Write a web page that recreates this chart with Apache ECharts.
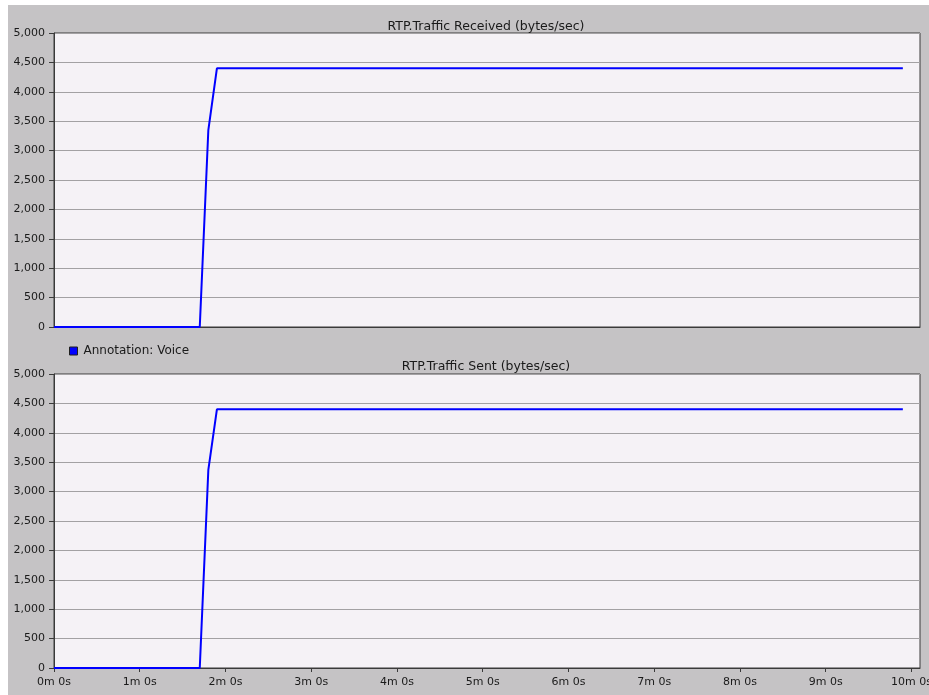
<!DOCTYPE html>
<html>
<head>
<meta charset="utf-8">
<script src="https://cdn.jsdelivr.net/npm/echarts@6/dist/echarts.min.js"></script>
<style>
  html, body { margin: 0; padding: 0; background: #ffffff; }
  body { width: 929px; height: 695px; overflow: hidden; position: relative; }
  #chart { position: absolute; left: 8px; top: 5px; width: 921px; height: 690px; background: #c5c3c5; }
</style>
</head>
<body>
<div id="chart"></div>
<script>
// Simulation time (seconds) and RTP traffic rates (bytes/sec)
const receivedTimes = [0, 102, 108, 114, 594];
const receivedValues = [0, 0, 3350, 4400, 4400];
const sentTimes = [0, 102, 108, 114, 594];
const sentValues = [0, 0, 3370, 4400, 4400];

const panelTitles = ['RTP.Traffic Received (bytes/sec)', 'RTP.Traffic Sent (bytes/sec)'];
const seriesName = 'Annotation: Voice';
const minuteTicks = [0, 60, 120, 180, 240, 300, 360, 420, 480, 540, 600];

const FONT = 'DejaVu Sans';
const FONT_SIZE = 11;
const textColor = '#1a1a1a';

function pairs(xs, ys) { return xs.map((x, i) => [x, ys[i]]); }

function fmtTime(v) {
  const m = Math.floor(v / 60), s = Math.round(v - m * 60);
  return m + 'm ' + s + 's';
}

const gridBase = { left: 46, width: 866, height: 294, show: true, outerBoundsMode: 'none',
  backgroundColor: '#f5f2f6', borderColor: '#3a3a3a', borderWidth: 1 };

function xAxisFor(gridIndex, showLabels) {
  return {
    type: 'value', gridIndex, min: 0, max: 606,
    axisLine: { show: true, onZero: false, lineStyle: { color: '#3a3a3a', width: 1 } },
    axisTick: { show: showLabels, length: 4, customValues: minuteTicks, lineStyle: { color: '#3a3a3a' } },
    axisLabel: { show: showLabels, customValues: minuteTicks, formatter: fmtTime, hideOverlap: false,
      color: textColor, fontFamily: FONT, fontSize: FONT_SIZE, margin: 9 },
    splitLine: { show: false }
  };
}

function yAxisFor(gridIndex) {
  return {
    type: 'value', gridIndex, min: 0, max: 5000, interval: 500,
    axisLine: { show: true, lineStyle: { color: '#3a3a3a', width: 1 } },
    axisTick: { show: true, length: 5, lineStyle: { color: '#3a3a3a' } },
    axisLabel: { color: textColor, fontFamily: FONT, fontSize: FONT_SIZE, margin: 9,
      formatter: v => v.toLocaleString('en-US') },
    splitLine: { show: true, lineStyle: { color: '#a3a1a3', width: 1 } }
  };
}

const lineStyle = { color: '#0000ff', width: 2 };
const titleText = { fontFamily: FONT, fontSize: 12.5, fontWeight: 'normal', color: textColor };

const chart = echarts.init(document.getElementById('chart'), null, { renderer: 'canvas' });
chart.setOption({
  animation: false,
  backgroundColor: '#c5c3c5',
  title: [
    { text: panelTitles[0], left: 473, top: 10, textAlign: 'center', textStyle: titleText },
    { text: panelTitles[1], left: 473, top: 350, textAlign: 'center', textStyle: titleText }
  ],
  legend: {
    left: 56, top: 335, icon: 'rect', itemWidth: 8, itemHeight: 8, itemGap: 6,
    data: [seriesName],
    itemStyle: { borderColor: '#202020', borderWidth: 1 },
    textStyle: { fontFamily: FONT, fontSize: 12, color: textColor, padding: [0, 0, 0, 1] }
  },
  grid: [
    Object.assign({ top: 28 }, gridBase),
    Object.assign({ top: 369 }, gridBase)
  ],
  xAxis: [xAxisFor(0, false), xAxisFor(1, true)],
  yAxis: [yAxisFor(0), yAxisFor(1)],
  series: [
    { name: seriesName, type: 'line', xAxisIndex: 0, yAxisIndex: 0, showSymbol: false,
      color: '#0000ff', lineStyle, data: pairs(receivedTimes, receivedValues) },
    { name: seriesName, type: 'line', xAxisIndex: 1, yAxisIndex: 1, showSymbol: false,
      color: '#0000ff', lineStyle, data: pairs(sentTimes, sentValues) }
  ]
});
</script>
</body>
</html>
